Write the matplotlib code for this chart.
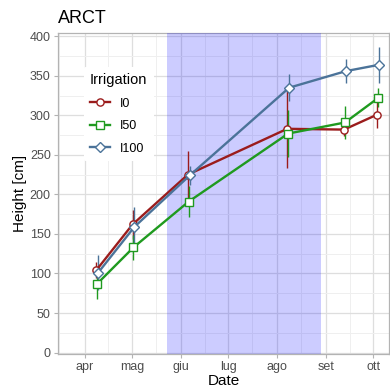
#!/usr/bin/env python3

import datetime as dt
import numpy as np
import matplotlib
matplotlib.use('Agg')
import matplotlib.pyplot as plt
import matplotlib.dates as mdates
from matplotlib.ticker import MultipleLocator

plt.rcParams['font.family'] = ['Liberation Sans', 'DejaVu Sans']

# data
dates = ['2019-04-09', '2019-05-02', '2019-06-06', '2019-08-08', '2019-09-13', '2019-10-04']
groups = ['I0', 'I50', 'I100']
height = {
    'I0':   [104, 162, 225, 283, 282, 301],
    'I50':  [87, 133, 191, 277, 291, 322],
    'I100': [101, 159, 224, 335, 356, 364],
}
err = {
    'I0':   [10, 18, 30, 50, 8, 17],
    'I50':  [19, 16, 20, 30, 21, 12],
    'I100': [22, 25, 12, 17, 15, 23],
}
shade = ('2019-05-23', '2019-08-29')
month_ticks = ['2019-04-01', '2019-05-01', '2019-06-01', '2019-07-01',
               '2019-08-01', '2019-09-01', '2019-10-01']
month_labels = ['apr', 'mag', 'giu', 'lug', 'ago', 'set', 'ott']

colors = {'I0': '#9b1c1c', 'I50': '#1f9a1f', 'I100': '#4b7399'}
markers = {'I0': 'o', 'I50': 's', 'I100': 'D'}
msizes = {'I0': 5.2, 'I50': 5.2, 'I100': 4.8}
dodge = {'I0': -0.6, 'I50': 0.0, 'I100': 0.6}


def d(s):
    return mdates.date2num(dt.datetime.strptime(s, '%Y-%m-%d'))


def main():
    fig = plt.figure(figsize=(3.9, 3.9), dpi=100)
    ax = fig.add_axes([0.148, 0.092, 0.85, 0.823])

    x = np.array([d(s) for s in dates])

    ax.axvspan(d(shade[0]), d(shade[1]), color='blue', alpha=0.2, lw=0, zorder=3)

    for g in groups:
        xx = x + dodge[g]
        y = np.array(height[g])
        e = np.array(err[g])
        ax.vlines(xx, y - e, y + e, color=colors[g], lw=1.0, zorder=4)
        ax.plot(xx, y, '-', color=colors[g], lw=1.7, marker=markers[g],
                ms=msizes[g], mfc='white', mec=colors[g], mew=1.0,
                label=g, zorder=5)

    ax.set_xlim(d('2019-03-15'), d('2019-10-11'))
    ax.set_ylim(-2, 404)
    ax.set_xticks([d(s) for s in month_ticks])
    ax.set_xticklabels(month_labels)
    mids = [d(s) for s in ['2019-03-16', '2019-04-16', '2019-05-16', '2019-06-16',
                           '2019-07-16', '2019-08-16', '2019-09-16']]
    ax.set_xticks(mids, minor=True)
    ax.yaxis.set_major_locator(MultipleLocator(50))
    ax.yaxis.set_minor_locator(MultipleLocator(25))

    ax.grid(True, which='major', color='#dedede', lw=0.9, zorder=0)
    ax.grid(True, which='minor', color='#efefef', lw=0.7, zorder=0)
    ax.set_axisbelow(True)
    for sp in ax.spines.values():
        sp.set_color('#b3b3b3')
        sp.set_linewidth(0.9)
    ax.tick_params(which='major', length=3, color='#b3b3b3',
                   labelcolor='#4d4d4d', labelsize=9, pad=2)
    ax.tick_params(which='minor', length=0)

    ax.set_xlabel('Date', fontsize=11, labelpad=1)
    ax.set_ylabel('Height [cm]', fontsize=11, labelpad=2)
    ax.set_title('ARCT', loc='left', fontsize=13, pad=7)

    leg = ax.legend(title='Irrigation', loc='upper left',
                    bbox_to_anchor=(0.06, 0.915), frameon=True,
                    fontsize=9, title_fontsize=10.5, handlelength=1.6,
                    labelspacing=0.85, borderpad=0.5)
    leg.get_frame().set_edgecolor('none')
    leg.get_frame().set_facecolor('white')
    leg.get_frame().set_alpha(1)
    leg._legend_box.align = 'left'
    leg.set_zorder(6)

    plt.savefig('out.png', dpi=100)


if __name__ == '__main__':
    main()
